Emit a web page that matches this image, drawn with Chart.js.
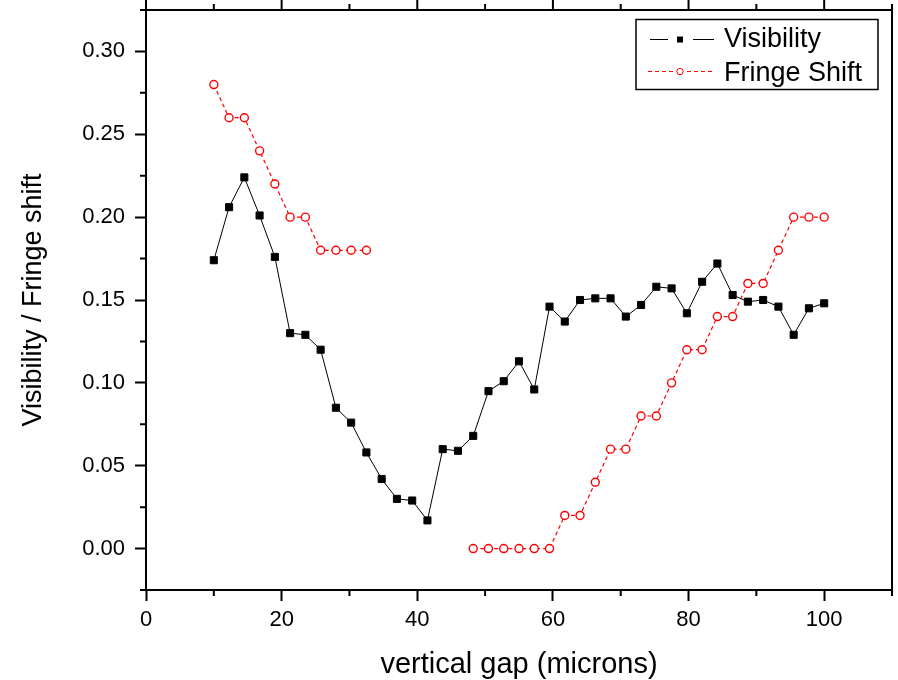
<!DOCTYPE html>
<html><head><meta charset="utf-8">
<script src="https://cdn.jsdelivr.net/npm/chart.js@4.4.1/dist/chart.umd.min.js"></script>
<style>html,body{margin:0;padding:0;background:#fff;} canvas{display:block;}</style>
</head><body>
<canvas id="c" width="898" height="680"></canvas>
<script>
const gapMicrons = [10, 12.25, 14.5, 16.75, 19, 21.25, 23.5, 25.75, 28, 30.25, 32.5, 34.75, 37, 39.25, 41.5, 43.75, 46, 48.25, 50.5, 52.75, 55, 57.25, 59.5, 61.75, 64, 66.25, 68.5, 70.75, 73, 75.25, 77.5, 79.75, 82, 84.25, 86.5, 88.75, 91, 93.25, 95.5, 97.75, 100];
const visibility = [0.174, 0.206, 0.224, 0.201, 0.176, 0.130, 0.129, 0.120, 0.085, 0.076, 0.058, 0.042, 0.030, 0.029, 0.017, 0.060, 0.059, 0.068, 0.095, 0.101, 0.113, 0.096, 0.146, 0.137, 0.150, 0.151, 0.151, 0.140, 0.147, 0.158, 0.157, 0.142, 0.161, 0.172, 0.153, 0.149, 0.150, 0.146, 0.129, 0.145, 0.148];
const fringeShift = [0.28, 0.26, 0.26, 0.24, 0.22, 0.20, 0.20, 0.18, 0.18, 0.18, 0.18, null, null, null, null, null, null, 0.00, 0.00, 0.00, 0.00, 0.00, 0.00, 0.02, 0.02, 0.04, 0.06, 0.06, 0.08, 0.08, 0.10, 0.12, 0.12, 0.14, 0.14, 0.16, 0.16, 0.18, 0.20, 0.20, 0.20];
const xTickValues = [0, 20, 40, 60, 80, 100];
const xMinorTickValues = [10, 30, 50, 70, 90, 110];
const yTickValues = [0, 0.05, 0.10, 0.15, 0.20, 0.25, 0.30];
const yMinorTickValues = [-0.025, 0.025, 0.075, 0.125, 0.175, 0.225, 0.275, 0.325];
const seriesNames = ['Visibility', 'Fringe Shift'];
const xAxisTitle = 'vertical gap (microns)';
const yAxisTitle = 'Visibility / Fringe shift';

const FONT = '"Liberation Sans", Arial, sans-serif';
const MAJ = 11, MIN = 6;

const framePlugin = {
  id: 'frame',
  afterDraw(chart) {
    const ctx = chart.ctx, a = chart.chartArea, xs = chart.scales.x, ys = chart.scales.y;
    ctx.save();
    ctx.strokeStyle = '#000';
    ctx.lineWidth = 2;
    ctx.beginPath();
    ctx.moveTo(a.left - 1, a.top); ctx.lineTo(a.right + 1, a.top);
    ctx.moveTo(a.right, a.top); ctx.lineTo(a.right, a.bottom + 1);
    xMinorTickValues.forEach(v => {
      const px = xs.getPixelForValue(v);
      ctx.moveTo(px, a.bottom); ctx.lineTo(px, a.bottom + MIN);
      ctx.moveTo(px, a.top); ctx.lineTo(px, a.top - MIN);
    });
    xTickValues.forEach(v => {
      const px = xs.getPixelForValue(v);
      ctx.moveTo(px, a.top); ctx.lineTo(px, a.top - MAJ);
    });
    yMinorTickValues.forEach(v => {
      const py = ys.getPixelForValue(v);
      ctx.moveTo(a.left, py); ctx.lineTo(a.left - MIN, py);
    });
    ctx.stroke();

    // legend
    const ds = chart.data.datasets;
    const lx = a.right - 256, ly = a.top + 9.5, lw = 242, lh = 70;
    ctx.fillStyle = '#fff';
    ctx.fillRect(lx, ly, lw, lh);
    ctx.lineWidth = 1.5;
    ctx.strokeStyle = '#000';
    ctx.strokeRect(lx, ly, lw, lh);
    const rows = [ly + 20, ly + 52];
    const mx = lx + 44;
    let y = rows[0];
    ctx.lineWidth = 1;
    ctx.strokeStyle = ds[0].borderColor;
    ctx.setLineDash([]);
    ctx.beginPath();
    ctx.moveTo(lx + 14, y); ctx.lineTo(mx - 12, y);
    ctx.moveTo(mx + 13, y); ctx.lineTo(lx + 78, y);
    ctx.stroke();
    ctx.fillStyle = ds[0].pointBackgroundColor;
    ctx.fillRect(mx - 3, y - 3, 6, 6);
    y = rows[1];
    ctx.strokeStyle = ds[1].borderColor;
    ctx.setLineDash(ds[1].borderDash);
    ctx.beginPath();
    ctx.moveTo(lx + 12, y); ctx.lineTo(mx - 7, y);
    ctx.moveTo(mx + 7, y); ctx.lineTo(lx + 78, y);
    ctx.stroke();
    ctx.setLineDash([]);
    ctx.beginPath();
    ctx.arc(mx, y, 3.2, 0, Math.PI * 2);
    ctx.fillStyle = '#fff'; ctx.fill();
    ctx.stroke();
    ctx.fillStyle = '#000';
    ctx.font = '27px ' + FONT;
    ctx.textBaseline = 'alphabetic';
    ctx.textAlign = 'left';
    ctx.fillText(ds[0].label, lx + 88, ly + 27.5);
    ctx.fillText(ds[1].label, lx + 88, ly + 61.5);
    ctx.restore();
  }
};

new Chart(document.getElementById('c'), {
  type: 'line',
  data: {
    datasets: [
      {
        label: seriesNames[0],
        data: gapMicrons.map((x, i) => ({ x: x, y: visibility[i] })),
        borderColor: '#000', borderWidth: 1, tension: 0, fill: false,
        pointStyle: 'rect', pointRadius: 5, pointBorderWidth: 1,
        pointBackgroundColor: '#000', pointBorderColor: '#000'
      },
      {
        label: seriesNames[1],
        data: gapMicrons.map((x, i) => ({ x: x, y: fringeShift[i] })),
        borderColor: '#ff0000', borderWidth: 1.2, borderDash: [4, 3], tension: 0, fill: false, spanGaps: false,
        pointStyle: 'circle', pointRadius: 4, pointBorderWidth: 1.4,
        pointBackgroundColor: '#fff', pointBorderColor: '#ff0000'
      }
    ]
  },
  options: {
    responsive: false, animation: false, events: [],
    layout: { padding: { top: 10, right: 1, left: 0, bottom: 0 } },
    plugins: { legend: { display: false }, tooltip: { enabled: false } },
    scales: {
      x: {
        type: 'linear', min: 0, max: 110,
        afterBuildTicks(s) { s.ticks = xTickValues.map(v => ({ value: v })); },
        afterFit(s) { s.height = 90; s.paddingLeft = 0; s.paddingRight = 0; },
        border: { display: true, color: '#000', width: 2 },
        grid: { display: true, drawOnChartArea: false, drawTicks: true, tickLength: MAJ, tickWidth: 2, tickColor: '#000' },
        ticks: { color: '#000', font: { family: FONT, size: 22 }, padding: 6, maxRotation: 0, autoSkip: false, callback: v => String(v) },
        title: { display: true, text: xAxisTitle, color: '#000', font: { family: FONT, size: 29, lineHeight: 1.0 }, padding: { top: 0, bottom: 1 } }
      },
      y: {
        type: 'linear', min: -0.025, max: 0.325,
        afterBuildTicks(s) { s.ticks = yTickValues.map(v => ({ value: v })); },
        afterFit(s) { s.width = 146; s.paddingTop = 0; s.paddingBottom = 0; },
        border: { display: true, color: '#000', width: 2 },
        grid: { display: true, drawOnChartArea: false, drawTicks: true, tickLength: MAJ, tickWidth: 2, tickColor: '#000' },
        ticks: { color: '#000', font: { family: FONT, size: 22 }, padding: 10, autoSkip: false, callback: v => v.toFixed(2) },
        title: { display: true, text: yAxisTitle, color: '#000', font: { family: FONT, size: 27 }, padding: { top: 17, bottom: 0 } }
      }
    }
  },
  plugins: [framePlugin]
});
</script>
</body></html>
